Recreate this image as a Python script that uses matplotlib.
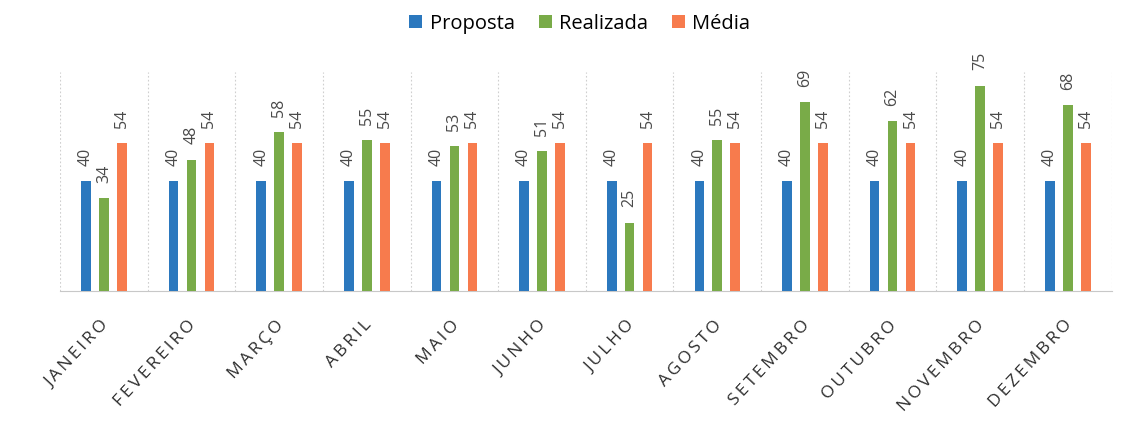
import matplotlib
matplotlib.use("Agg")
import matplotlib.pyplot as plt
from matplotlib.transforms import ScaledTranslation
import numpy as np

meses = ["JANEIRO", "FEVEREIRO", "MARÇO", "ABRIL", "MAIO", "JUNHO", "JULHO",
         "AGOSTO", "SETEMBRO", "OUTUBRO", "NOVEMBRO", "DEZEMBRO"]
proposta = [40, 40, 40, 40, 40, 40, 40, 40, 40, 40, 40, 40]
realizada = [34, 48, 58, 55, 53, 51, 25, 55, 69, 62, 75, 68]
media = [54, 54, 54, 54, 54, 54, 54, 54, 54, 54, 54, 54]

series = [("Proposta", proposta, "#2b78be"),
          ("Realizada", realizada, "#79ab48"),
          ("Média", media, "#f77b4d")]

plt.rcParams['font.family'] = ['Open Sans', 'DejaVu Sans']

fig = plt.figure(figsize=(11.39, 4.36), dpi=100)
ax = fig.add_axes([0.0527, 0.3326, 0.9233, 0.5024])

x = np.arange(len(meses))
offsets = [-0.205, 0.0, 0.205]
width = 0.11
handles = []
for (name, vals, col), off in zip(series, offsets):
    bars = ax.bar(x + off, vals, width, color=col, label=name, zorder=3)
    handles.append(bars)
    for xi, v in zip(x + off, vals):
        ax.annotate(str(v), (xi, v), xytext=(0, 11), textcoords='offset points',
                    rotation=90, ha='center', va='bottom',
                    fontsize=11.5, color='#4a4a4a')

ax.set_xlim(-0.5, len(meses) - 0.5)
ax.set_ylim(0, 80)
ax.set_yticks([])
for b in np.arange(-0.5, len(meses) + 0.5, 1.0):
    ax.axvline(b, color='#cfcfcf', lw=0.8, ls=(0, (1.5, 2)), zorder=1)
for s in ['top', 'right', 'left']:
    ax.spines[s].set_visible(False)
ax.spines['bottom'].set_color('#c8c8c8')
ax.spines['bottom'].set_linewidth(0.8)

ax.set_xticks(x)
spaced = ['\u2009'.join(m) for m in meses]
ax.set_xticklabels(spaced, rotation=47, ha='right', rotation_mode='anchor',
                   fontsize=12.5, color='#2e2e2e')
ax.tick_params(axis='x', length=0, pad=19)
for lab in ax.get_xticklabels():
    lab.set_transform(lab.get_transform() + ScaledTranslation(-4 / 100, 0, fig.dpi_scale_trans))

fig.legend(handles=handles, labels=[s[0] for s in series], loc='upper center',
           bbox_to_anchor=(0.509, 1.01), ncol=3, frameon=False, fontsize=14.5,
           handlelength=0.65, handleheight=0.65, handletextpad=0.35, columnspacing=1.2)

fig.savefig("out.png", dpi=100, facecolor='white')
